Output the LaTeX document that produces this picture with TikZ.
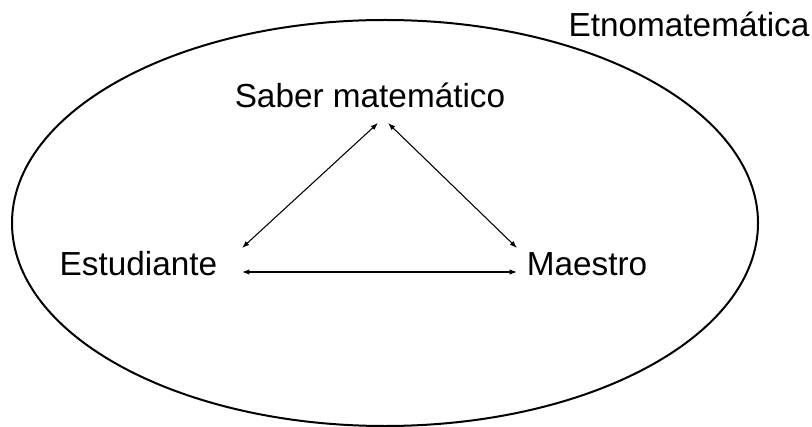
\documentclass[tikz,border=0pt]{standalone}
\usepackage{fontspec}
\setmainfont{Liberation Sans}
\usetikzlibrary{arrows.meta,calc}
\tikzset{
  lbl/.style={anchor=base,inner sep=0pt,font=\fontsize{25pt}{29pt}\selectfont},
  arr/.style={{Latex[length=5.5pt,width=4pt]}-{Latex[length=5.5pt,width=4pt]},line width=0.8pt},
}
\begin{document}
\begin{tikzpicture}[x=0.75pt,y=-0.75pt]
\useasboundingbox (0,0) rectangle (812,427);
\draw[line width=1.5pt] (385,223) ellipse [x radius=373,y radius=203];
\node[lbl] (etno) at (689,37) {Etnomatemática};
\node[lbl] (smat) at (370,108) {Saber matemático};
\node[lbl] (estu) at (138.5,275) {Estudiante};
\node[lbl] (maes) at (587,275) {Maestro};
\draw[arr] ($(smat.base)+(8,15)$) -- ($(estu.base)+(103.5,-27)$);
\draw[arr] ($(smat.base)+(18,15)$) -- ($(maes.base)+(-70,-27)$);
\draw[arr] ($(estu.base)+(103.5,-3)$) -- ($(maes.base)+(-70,-3)$);
\end{tikzpicture}
\end{document}
